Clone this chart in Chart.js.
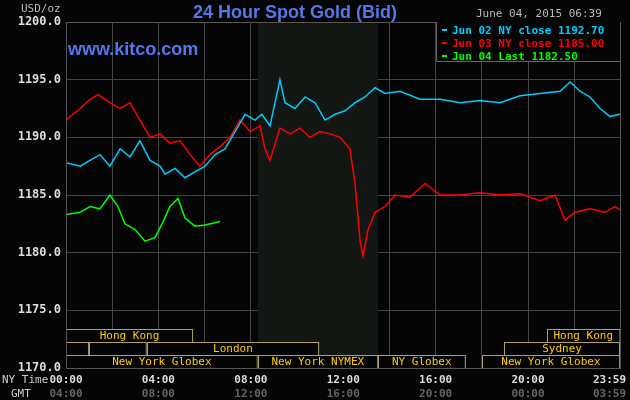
<!DOCTYPE html>
<html><head><meta charset="utf-8">
<script src="https://cdn.jsdelivr.net/npm/chart.js@4"></script>
<style>html,body{margin:0;padding:0;background:#050505;}#w{width:630px;height:400px;}</style>
</head><body><div id="w"><canvas id="c"></canvas></div>
<script>
const jun02Hours=[0,0.61,1.04,1.47,1.9,2.34,2.77,3.2,3.64,4.07,4.29,4.72,5.15,5.58,6.02,6.45,6.88,7.32,7.75,8.18,8.48,8.83,9.26,9.48,9.91,10.35,10.78,11.21,11.65,12.08,12.51,12.94,13.38,13.81,14.46,15.32,16.19,17.06,17.92,18.79,19.65,20.52,21.39,21.82,22.25,22.68,23.12,23.55,23.98];
const jun02Values=[1187.8,1187.5,1188,1188.5,1187.5,1189,1188.3,1189.7,1188,1187.5,1186.8,1187.3,1186.5,1187,1187.5,1188.5,1189,1190.5,1192,1191.5,1192,1191,1195,1193,1192.5,1193.5,1193,1191.5,1192,1192.3,1193,1193.5,1194.3,1193.8,1194,1193.3,1193.3,1193,1193.2,1193,1193.6,1193.8,1194,1194.8,1194,1193.5,1192.5,1191.8,1192];
const jun03Hours=[0,0.61,1.04,1.39,1.9,2.34,2.77,3.2,3.64,4.07,4.5,4.94,5.37,5.8,6.23,6.67,7.1,7.53,7.97,8.4,8.61,8.83,9.26,9.7,10.13,10.56,11.0,11.43,11.86,12.29,12.51,12.73,12.86,13.07,13.38,13.81,14.24,14.89,15.54,16.19,17.06,17.92,18.79,19.65,20.52,21.17,21.6,22.03,22.68,23.33,23.77,23.98];
const jun03Values=[1191.5,1192.5,1193.3,1193.7,1193,1192.5,1193,1191.5,1190,1190.3,1189.5,1189.7,1188.5,1187.5,1188.5,1189.2,1190,1191.5,1190.5,1191,1189,1188,1190.8,1190.3,1190.8,1190,1190.5,1190.3,1190,1189,1186,1181,1179.7,1182,1183.5,1184,1185,1184.8,1186,1185,1185,1185.2,1185,1185.1,1184.5,1185,1182.8,1183.5,1183.8,1183.5,1184,1183.7];
const jun04Hours=[0,0.61,1.04,1.47,1.9,2.25,2.55,2.99,3.42,3.85,4.16,4.5,4.85,5.15,5.58,6.02,6.45,6.67];
const jun04Values=[1183.3,1183.5,1184,1183.8,1185,1184,1182.5,1182,1181,1181.3,1182.5,1184,1184.7,1183,1182.3,1182.4,1182.6,1182.7];
const legendLabels=['Jun 02 NY close 1192.70','Jun 03 NY close 1185.00','Jun 04 Last 1182.50'];
const nyTickLabels={0:'00:00',4:'04:00',8:'08:00',12:'12:00',16:'16:00',20:'20:00',23.98:'23:59'};
const gmtTickLabels={0:'04:00',4:'08:00',8:'12:00',12:'16:00',16:'20:00',20:'00:00',23.98:'03:59'};
const xTickValues=[0,2,4,6,8,10,12,14,16,18,20,22,23.98];
const yTickValues=[1170,1175,1180,1185,1190,1195,1200];
const nymexShade=[8.3,13.5];
// sessions: [label,start,end,row]
const sessions=[['Hong Kong',0,5.5,0],['Hong Kong',20.8,23.98,0],['',0,1,1],['',1,3.5,1],['London',3.5,10.95,1],['Sydney',18.96,23.98,1],['New York Globex',0,8.3,2],['New York NYMEX',8.3,13.5,2],['NY Globex',13.5,17.3,2],['New York Globex',18.0,23.98,2]];

const toPts=(h,v)=>h.map((x,i)=>({x,y:v[i]}));
const mono='"DejaVu Sans Mono", monospace';

const deco={id:'deco',
 beforeDatasetsDraw(ch){const {ctx,chartArea:a,scales:{x}}=ch;ctx.save();ctx.fillStyle='#131713';
  const x1=x.getPixelForValue(nymexShade[0]),x2=x.getPixelForValue(nymexShade[1]);ctx.fillRect(x1,a.top,x2-x1,a.bottom-a.top);ctx.restore();},
 afterDraw(ch){const {ctx,chartArea:a,scales:{x}}=ch;ctx.save();
  const rowH=13,base=a.bottom-3*rowH;ctx.font='11px '+mono;ctx.textAlign='center';ctx.textBaseline='middle';
  sessions.forEach(([l,s,e,r])=>{const x1=x.getPixelForValue(s),x2=x.getPixelForValue(e),y=base+r*rowH;
   ctx.fillStyle='#050505';ctx.fillRect(x1,y,x2-x1,rowH);ctx.strokeStyle='#b0a070';ctx.lineWidth=1;ctx.strokeRect(Math.round(x1)+0.5,y+0.5,x2-x1-1,rowH);
   if(l){ctx.fillStyle='#ffcc00';ctx.fillText(l,(x1+x2)/2,y+rowH/2+1);}});
  ctx.strokeStyle='#555';ctx.strokeRect(a.left+0.5,a.top+0.5,a.right-a.left,a.bottom-a.top);
  ctx.textBaseline='alphabetic';ctx.textAlign='center';ctx.fillStyle='#5577ee';ctx.font='bold 18px "Liberation Sans", Arial';ctx.fillText('24 Hour Spot Gold (Bid)',295,18);
  ctx.textAlign='left';ctx.font='bold 18px "Liberation Sans", Arial';ctx.fillText('www.kitco.com',68,55);
  ctx.fillStyle='#bbbbbb';ctx.font='11px '+mono;ctx.fillText('USD/oz',21,12);ctx.fillText('June 04, 2015 06:39',476,17);
  ctx.fillStyle='#050505';ctx.fillRect(436,22,184,40);ctx.strokeStyle='#666';ctx.beginPath();ctx.moveTo(436.5,22);ctx.lineTo(436.5,61.5);ctx.lineTo(620,61.5);ctx.stroke();
  const cols=['#00ccff','#ff0000','#00ff00'];ctx.font='bold 11px '+mono;
  legendLabels.forEach((t,i)=>{ctx.fillStyle=cols[i];ctx.fillRect(442,29+i*13,5,2);ctx.fillText(t,452,34+i*13);});
  ctx.font='bold 11px '+mono;
  Object.keys(nyTickLabels).forEach(k=>{const last=+k>23;const px=last?626:x.getPixelForValue(+k);ctx.textAlign=last?'right':'center';
   ctx.fillStyle='#dddddd';ctx.fillText(nyTickLabels[k],px,383);ctx.fillStyle='#666666';ctx.fillText(gmtTickLabels[k],px,397);});
  ctx.textAlign='left';ctx.font='11px '+mono;ctx.fillStyle='#cccccc';ctx.fillText('NY Time',2,383);ctx.fillText('GMT',11,397);
  ctx.restore();}};

new Chart(document.getElementById('c'),{type:'line',
 data:{datasets:[
  {data:toPts(jun02Hours,jun02Values),borderColor:'#00ccff'},
  {data:toPts(jun03Hours,jun03Values),borderColor:'#ff0000'},
  {data:toPts(jun04Hours,jun04Values),borderColor:'#00ff00'}]},
 options:{responsive:true,maintainAspectRatio:false,animation:false,
  layout:{padding:{top:22,right:10,left:0,bottom:0}},
  elements:{point:{radius:0},line:{borderWidth:1.5,tension:0}},
  plugins:{legend:{display:false},tooltip:{enabled:false}},
  scales:{
   x:{type:'linear',min:0,max:23.98,afterBuildTicks:s=>{s.ticks=xTickValues.map(v=>({value:v}));},
      afterFit:s=>{s.height=32;},grid:{color:'#444',drawTicks:false},border:{display:false},ticks:{display:false}},
   y:{min:1170,max:1200,afterBuildTicks:s=>{s.ticks=yTickValues.map(v=>({value:v}));},
      afterFit:s=>{s.width=66;},grid:{color:'#444',drawTicks:false},border:{display:false},
      ticks:{color:'#dddddd',font:{family:'DejaVu Sans Mono',size:12,weight:'bold'},padding:5,callback:v=>v.toFixed(1)}}}},
 plugins:[deco]});
</script></body></html>
